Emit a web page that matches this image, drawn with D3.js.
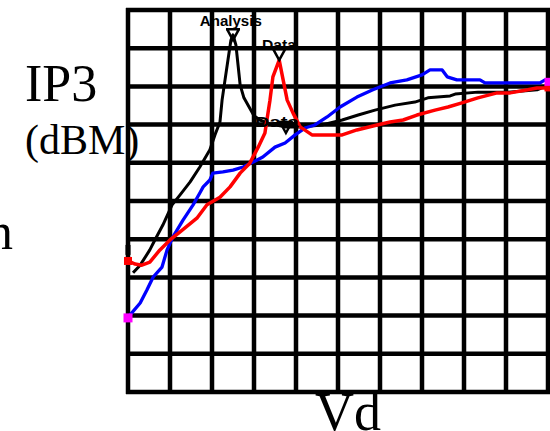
<!DOCTYPE html>
<html><head><meta charset="utf-8">
<script src="https://cdn.jsdelivr.net/npm/d3@7/dist/d3.min.js"></script>
<style>body{margin:0;background:#fff}svg{display:block}</style>
</head><body>
<script>
// ---- data (grid units: x 0..10 = Vd, y 0..10 = IP3) ----
const gridX = [0,1,2,3,4,5,6,7,8,9,10];
const gridY = [0,1,2,3,4,5,6,7,8,9,10];

const analysisX = [0.12,0.29,0.52,0.64,0.83,1.05,1.24,1.48,1.71,1.95,2.07,2.19,2.24,2.31,2.38,2.45,2.50,2.57,2.62,2.67,2.76,2.90,3.00,3.14,3.38,3.74,4.10,4.62,5.10,5.48,5.88,6.36,6.83,7.14,7.67,7.79,8.33,9.05,9.74,9.95];
const analysisY = [3.12,3.32,3.72,3.98,4.37,4.90,5.16,5.50,5.89,6.34,6.73,7.07,7.64,8.17,8.69,9.21,9.35,9.08,8.56,8.04,7.70,7.43,7.23,7.12,7.02,6.94,6.94,6.99,7.12,7.25,7.38,7.51,7.59,7.70,7.75,7.80,7.85,7.85,7.91,8.01];

const dataX = [0,0.17,0.33,0.52,0.76,1.00,1.24,1.64,1.88,2.19,2.43,2.67,2.90,3.10,3.26,3.38,3.45,3.60,3.67,3.79,3.93,4.10,4.38,5.10,5.45,5.93,6.24,6.55,6.88,7.31,7.62,7.95,8.33,8.79,9.10,9.52,9.74,10];
const dataY = [3.43,3.35,3.32,3.40,3.72,3.98,4.19,4.55,4.90,5.10,5.37,5.73,5.99,6.41,6.78,7.64,8.25,8.69,8.30,7.64,7.30,6.94,6.73,6.73,6.86,6.99,7.07,7.12,7.25,7.38,7.46,7.57,7.70,7.83,7.83,7.91,7.96,7.96];

const blueX = [0,0.05,0.29,0.45,0.60,0.81,0.93,1.07,1.31,1.55,1.71,1.79,1.95,2.02,2.26,2.50,2.74,2.98,3.21,3.50,3.74,3.98,4.21,4.45,4.74,5.05,5.45,5.83,6.24,6.64,7.00,7.19,7.48,7.60,7.83,8.38,8.50,9.81,9.93,10];
const blueY = [1.94,2.02,2.33,2.67,3.01,3.27,3.72,4.06,4.50,4.90,5.21,5.37,5.55,5.73,5.76,5.81,5.89,6.02,6.15,6.41,6.52,6.73,6.91,6.99,7.20,7.46,7.72,7.91,8.09,8.17,8.30,8.43,8.43,8.25,8.17,8.17,8.09,8.09,8.17,8.12];

const annLabels = ["Analysis","Data","Data"];
const annTextX  = [1.71,3.19,3.02];
const annTextY  = [9.58,8.95,6.94];
const annTipX   = [2.50,3.60,3.76];
const annTipY   = [9.21,8.69,6.78];

// ---- layout ----
const W = 550, H = 431;
const svg = d3.select("body").append("svg").attr("width", W).attr("height", H);
const x = d3.scaleLinear().domain([0,10]).range([128,548]);
const y = d3.scaleLinear().domain([0,10]).range([392,10]);

// grid
svg.append("g").selectAll("line").data(gridX).join("line")
  .attr("x1", d=>x(d)).attr("x2", d=>x(d)).attr("y1", y(0)+2).attr("y2", y(10)-2)
  .attr("stroke","#000").attr("stroke-width",4.5);
svg.append("g").selectAll("line").data(gridY).join("line")
  .attr("y1", d=>y(d)).attr("y2", d=>y(d)).attr("x1", x(0)-2).attr("x2", x(10)+2)
  .attr("stroke","#000").attr("stroke-width",4.5);

const line = d3.line().x(d=>x(d[0])).y(d=>y(d[1]));
function series(xs, ys, color, w){
  svg.append("path").datum(xs.map((v,i)=>[v,ys[i]]))
    .attr("d", line).attr("fill","none").attr("stroke",color)
    .attr("stroke-width",w).attr("stroke-linejoin","round");
}
series(analysisX, analysisY, "#000", 3);
series(blueX, blueY, "#0000ff", 3.3);
series(dataX, dataY, "#ff0000", 3.5);

// end markers
function marker(px, py, color, w, h){
  svg.append("rect").attr("x", x(px)-w/2).attr("y", y(py)-h/2)
    .attr("width", w).attr("height", h).attr("fill", color);
}
marker(0, 3.72, "#000", 5, 10);
marker(dataX[0], dataY[0], "#ff0000", 8, 8);
marker(dataX[dataX.length-1], dataY[dataY.length-1], "#ff0000", 7, 7);
marker(blueX[0], blueY[0], "#ff00ff", 9, 9);
marker(blueX[blueX.length-1], blueY[blueY.length-1], "#ff00ff", 7, 8);

// annotations
const annLen = [62, 34, 44];
annLabels.forEach((t,i)=>{
  svg.append("text").attr("x", x(annTextX[i])).attr("y", y(annTextY[i]))
    .attr("font-family","Liberation Sans, Arial, sans-serif").attr("font-weight","bold")
    .attr("font-size",15).attr("fill","#000")
    .attr("textLength", annLen[i]).attr("lengthAdjust","spacingAndGlyphs").text(t);
  const tx = x(annTipX[i]), ty = y(annTipY[i]);
  svg.append("path").attr("d", `M${tx-7},${ty-11} L${tx+7},${ty-11} M${tx-6},${ty-11} L${tx},${ty} L${tx+6},${ty-11}`)
    .attr("fill","none").attr("stroke","#000").attr("stroke-width",2.5);
});

// titles
const serif = "Liberation Serif, Times New Roman, serif";
svg.append("text").attr("x",25).attr("y",101).attr("font-family",serif).attr("font-size",52).text("IP3");
svg.append("text").attr("x",25).attr("y",154).attr("font-family",serif).attr("font-size",42).text("(dBM)");
svg.append("text").attr("x",13).attr("y",249).attr("text-anchor","end").attr("font-family",serif).attr("font-size",52).text("n");
svg.append("text").attr("x",315).attr("y",430).attr("font-family",serif).attr("font-size",54).text("Vd");
</script>
</body></html>
